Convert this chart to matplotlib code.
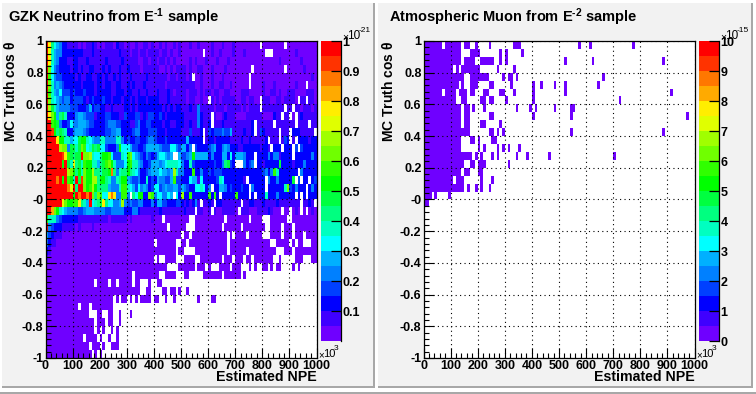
"""GZK neutrino and atmospheric muon NPE vs cos(theta) maps, ROOT canvas look."""

import matplotlib

matplotlib.use("Agg")
import matplotlib.pyplot as plt
import numpy as np
from matplotlib.colors import BoundaryNorm, ListedColormap
from matplotlib.patches import Rectangle
from matplotlib.ticker import FixedLocator

plt.rcParams["font.family"] = "Liberation Sans"
plt.rcParams["font.weight"] = "bold"
plt.rcParams["mathtext.fontset"] = "custom"
plt.rcParams["mathtext.rm"] = "Liberation Sans:bold"
plt.rcParams["mathtext.bf"] = "Liberation Sans:bold"
plt.rcParams["mathtext.it"] = "Liberation Sans"
plt.rcParams["mathtext.default"] = "rm"

# colour level of each cell, top row first: "." is empty, "1".."k" are 20 levels
LEVEL_CODES = "123456789abcdefghijk"
gzk_rows = [
    "kg97653322 2212122321 2122213221 2112112212 1121211212 1112112111 1211121112 111111111. 11111111.1 1111111111",
    "kf86553333 3333222322 2222222322 2122122122 2212212112 11111111.1 1211211112 1112111111 1...111111 1121111111",
    "kg86533322 3322232222 2232222232 2222112212 2122121211 1112121112 1112111211 1111111111 1111112111 1111211111",
    "kd75433332 3323223322 2323222322 3222212222 2211212122 2212112211 1211112111 111111.111 11111111.1 1111121111",
    "kc75443333 3232233223 3232232322 2322222322 2222212212 2212.11211 1211121111 11111.1111 1111111111 1111111121",
    "kd85654333 3332333323 3233223322 3232223222 2222122222 2222211211 1211221121 11111.1111 2111211111 112111.111",
    "kc86574443 4333433323 3333223332 3322322322 2322232122 2212221212 2122112211 1122211111 2112212112 2211112221",
    "kd87654553 4444323433 3433233323 3232333233 3322232222 2212211211 .212122222 112212211. 2221122122 221.22.221",
    "kea8655554 4433346344 3322322223 3232333333 3332323233 2223225222 2212221222 221212222. 22222222.2 2.22122212",
    "kgdb69a833 3566544423 3344333224 3334423244 3343233333 3222225322 2.21123222 1111222222 1111322.22 .1.2322222",
    "kkcba53347 5566654433 3345554433 3224533443 3332332233 3223225322 3.22232222 2222223.22 2222.22222 22.2222.22",
    "kkjb9a9833 5666543333 3344556633 3345533344 4333233333 22242223.2 4344454462 2223223.24 322222.222 .33322222.",
    "kkkkgbb886 77abb87655 8855558853 4334433455 4333433333 33633333.2 3323333322 2232232222 23.222.243 .2.3333233",
    "kkkkkedd5a a8adc78a9a 7743335b77 7644334666 6654447754 6635.43333 4563356533 3223333332 332.333.33 3.4.433333",
    "kkkkkkjgca 9aakdde877 9bbc744487 cd76543543 4677656..6 445 6b66666 3533366373 6665333.33 3353552333 3.33333353",
    "kkkkkkbka8 f9a8cbb886 9acdb85557 bc88653346 6656788887 5338433333 3343359a43 ...5345.33 233333a333 3233353333",
    "kkkkkkkked b9b8dbbe99 8aabi95899 b987533456 6676656e85 5333c33533 4344433333 3333333333 4535c83333 333.533333",
    "kkkkikbkcb 8kajdbbee9 bb985589bb 6544533834 3655446c44 3337662733 3334873333 3332.33333 3.53353333 3a.4.33.34",
    "kkkkkkkkif k9kkdbceb9 99965558cc 8764756534 7745655664 6543377873 5.33665343 33433.5333 3.3333338d 435333.353",
    "kkkkkkkkkk bkikkikd9d c77gig55cc 5.97bb33dc 5775576.73 e33c333333 c3c3.33333 c3333.3.33 3833353333 33.3.3.333",
    "kkkkkkfdbb ccg986k789 ag977556e5 4544553335 3664433344 3232352.22 32.3322222 22.2233222 3222232222 2222.2232.",
    "kkhdb87655 5544566655 5544555553 3355322222 2232222222 23222.2211 2.21122222 1.22211122 2232111.11 .121.1.121",
    "c888543333 3322222222 2221222222 1211111112 111.111111 111..11111 111111.111 11111.1111 ...111111. .111111111",
    "k543332222 2121111211 1111111111 1111111111 11111.1111 11...11111 11111.1111 11.1111111 1..1111.11 1.11111111",
    "6432221111 1111111111 1111111111 1111111111 1111111111 .11.111111 1111111.1. 1111.11111 ...1111.11 1.111.1111",
    "5322111111 1111111111 1111111111 1111111111 .1111111.. 11.1111111 1111111.11 1111111111 111..11111 .1.11...11",
    "3211111111 1111111111 1111111111 1111111111 11111111.1 1....11111 1111111.11 1111.11111 11111...11 1.11111111",
    "2111111111 1111111111 1111111111 1111111111 .1..1111.. .1111..111 11111.111. 111.11.111 1111..1... ..111...11",
    "1111111111 1111111111 1111111111 1111111111 11111....1 11111.111. 1...1111.1 11...1.1.. 11.1.11... .1.1......",
    "1111111111 1111111111 1111111111 11.1111111 11..1111.. .11.....11 11111.1111 11.1......",
    "1111111111 11111111.1 111.11.111 11.11...1. .11.......",
    "1111111111 1111111111 1111111111 11111..11. ...11.11.1 ..1.......",
    "1111111111 1111111111 11111.1.11 .1.1.1111. 11..1..1.. ......1... .11.......",
    "1111111111 11.111.111 11111.....",
    "1111111111 111111...1 1..11..1.. .1........",
    "1111111111 11111111.1 11.11..1..",
    "1111111111 11111111.1 .1..1.1...",
    "1111111111 1111.1111. 1..1..1...",
    "1111111111 111111.111 .1..111...",
    "1111111111 1111111.1. 1.........",
]

# occupied bins of the muon map per row, top row first, all in the lowest level
muon_spans = [
    [(0, 6), (8, 13), (15, 16), (19, 19), (24, 24), (33, 35), (57, 57), (61, 61), (77, 77)],
    [(0, 13), (17, 20), (28, 28), (30, 30), (36, 36)],
    [(0, 13), (15, 18), (21, 25), (28, 28), (30, 30), (52, 52), (62, 62), (88, 88)],
    [(0, 10), (12, 12), (14, 20), (27, 27), (33, 33)],
    [(0, 14), (17, 23), (29, 29), (31, 32), (34, 34), (66, 66)],
    [(0, 12), (14, 14), (17, 19), (24, 25), (32, 32), (40, 40), (43, 43), (48, 48), (52, 52), (64, 64)],
    [(0, 6), (8, 11), (13, 15), (17, 18), (22, 23), (28, 29), (33, 33), (40, 40), (52, 52), (91, 91)],
    [(0, 11), (14, 15), (21, 22), (24, 25), (30, 30), (40, 40), (72, 72)],
    [(0, 13), (15, 16), (18, 18), (22, 22), (34, 34), (39, 39), (41, 41), (48, 48), (54, 55)],
    [(0, 13), (15, 16), (24, 25), (40, 40), (54, 54), (97, 97)],
    [(0, 13), (15, 16), (21, 22), (28, 28)],
    [(0, 16), (24, 25), (27, 27), (29, 29), (54, 54), (88, 88)],
    [(0, 13), (17, 18), (20, 20), (25, 26)],
    [(0, 13), (20, 20), (22, 22), (27, 27), (29, 29), (31, 31), (35, 35)],
    [(0, 17), (19, 19), (21, 21), (25, 25), (27, 27), (34, 34), (38, 38), (46, 46), (70, 70)],
    [(0, 14), (17, 18), (20, 22), (31, 31)],
    [(0, 13), (15, 16), (20, 21)],
    [(0, 10), (12, 14), (21, 21), (25, 25)],
    [(0, 14), (16, 16), (19, 19), (21, 21), (24, 24)],
    [(0, 2), (4, 4), (9, 9)],
    [(0, 1)],
]

palette = [
    "#6f00ff", "#3f00ff", "#0000ff", "#0040ff", "#0080ff",
    "#00b0ff", "#00ffff", "#00ffc0", "#00ff80", "#00ff40",
    "#00ff00", "#30ff00", "#70ff00", "#a0ff00", "#e0ff00",
    "#ffee00", "#ffaa00", "#ff7700", "#ff3300", "#ff0000",
]

x_ticks = [0, 100, 200, 300, 400, 500, 600, 700, 800, 900, 1000]
y_ticks = [-1, -0.8, -0.6, -0.4, -0.2, 0, 0.2, 0.4, 0.6, 0.8, 1]
y_labels = ["-1", "-0.8", "-0.6", "-0.4", "-0.2", "-0", "0.2", "0.4", "0.6", "0.8", "1"]
gzk_cbar_ticks = [0.1, 0.2, 0.3, 0.4, 0.5, 0.6, 0.7, 0.8, 0.9, 1]
gzk_cbar_labels = ["0.1", "0.2", "0.3", "0.4", "0.5", "0.6", "0.7", "0.8", "0.9", "1"]
muon_cbar_ticks = [0, 1, 2, 3, 4, 5, 6, 7, 8, 9, 10]
muon_cbar_labels = ["0", "1", "2", "3", "4", "5", "6", "7", "8", "9", "10"]

W, H = 756, 394
N_X, N_Y = 100, 40
PAD_BG = "#f2f2f2"
PLOT_BG = "#ffffff"


def rows_to_grid(rows, zmax):
    grid = np.full((N_Y, N_X), np.nan)
    for i, row in enumerate(rows):
        cells = row.replace(" ", "").ljust(N_X, ".")
        for j, c in enumerate(cells[:N_X]):
            if c != ".":
                grid[i, j] = (LEVEL_CODES.index(c) + 0.5) / 20 * zmax
    return grid


def spans_to_grid(spans, zmax):
    grid = np.full((N_Y, N_X), np.nan)
    for i, row in enumerate(spans):
        for first, last in row:
            grid[i, first : last + 1] = 0.5 / 20 * zmax
    return grid


def px_axes(fig, x0, y0, x1, y1):
    return fig.add_axes([x0 / W, 1 - y1 / H, (x1 - x0) / W, (y1 - y0) / H])


def px_text(fig, x, y, s, **kwargs):
    fig.text(x / W, 1 - y / H, s, ha="left", va="center", fontweight="normal", **kwargs)


def draw_panel(fig, grid, zmax, left, title, title_x, cbar_ticks, cbar_labels, exponent):
    cmap = ListedColormap(palette)
    cmap.set_bad(PLOT_BG)
    levels = np.linspace(0, zmax, 21)
    norm = BoundaryNorm(levels, cmap.N)

    ax = px_axes(fig, left, 41, left + 271, 358)
    ax.pcolormesh(np.linspace(0, 1000, N_X + 1), np.linspace(1, -1, N_Y + 1),
                  np.ma.masked_invalid(grid), cmap=cmap, norm=norm)
    ax.set_xlim(0, 1000)
    ax.set_ylim(-1, 1)
    ax.set_xticks(x_ticks)
    ax.set_yticks(y_ticks)
    ax.set_yticklabels(y_labels)
    ax.xaxis.set_minor_locator(FixedLocator(np.arange(0, 1001, 20)))
    ax.yaxis.set_minor_locator(FixedLocator(np.arange(-1, 1.001, 0.04)))
    ax.tick_params(which="major", direction="in", length=7, width=0.8, labelsize=9, pad=1.5)
    ax.tick_params(which="minor", direction="in", length=3.5, width=0.8)
    ax.grid(True, which="major", linestyle=(0, (1, 3)), color="black", linewidth=0.8)
    ax.set_axisbelow(False)
    for spine in ax.spines.values():
        spine.set_linewidth(0.9)
    ax.text(1.0, -0.059, "Estimated NPE", transform=ax.transAxes, ha="right", va="center", fontsize=10.2)
    ax.text(-0.13, 1.0, r"MC Truth cos $\mathit{\theta}$", transform=ax.transAxes, rotation=90,
            ha="center", va="top", fontsize=10)
    fig.text(title_x / W, 1 - 17 / H, title, fontsize=10.5, ha="left", va="center")

    # multiplier labels are set by hand, ROOT puts them just past the axis ends
    px_text(fig, left + 272.5, 355, "×", fontsize=7)
    px_text(fig, left + 277.5, 354, "10", fontsize=8)
    px_text(fig, left + 288.5, 349, "3", fontsize=6)

    cax = px_axes(fig, left + 275, 41, left + 295.5, 341)
    cax.pcolormesh([0, 1], levels, np.array(levels[:-1] + zmax / 40).reshape(-1, 1), cmap=cmap, norm=norm)
    cax.set_xticks([])
    cax.set_ylim(0, zmax)
    cax.yaxis.tick_right()
    cax.set_yticks(cbar_ticks)
    cax.set_yticklabels(cbar_labels)
    cax.tick_params(axis="y", direction="in", length=7, width=0.9, labelsize=9, pad=1)
    for name in ("top", "bottom", "left"):
        cax.spines[name].set_visible(False)
    cax.spines["right"].set_linewidth(0.9)

    px_text(fig, left + 297, 37, "×", fontsize=7.5)
    px_text(fig, left + 302, 36, "10", fontsize=8.5)
    px_text(fig, left + 313, 30, exponent, fontsize=6)


fig = plt.figure(figsize=(W / 100, H / 100), dpi=100, facecolor="white")

bg = fig.add_axes([0, 0, 1, 1], zorder=-1)
bg.set_xlim(0, W)
bg.set_ylim(H, 0)
bg.axis("off")
for x0, x1 in [(2, 375), (378, 753)]:
    bg.add_patch(Rectangle((x0, 3), x1 - x0, 385, facecolor="#a8a8a8", edgecolor="none"))
    bg.add_patch(Rectangle((x0, 3), x1 - x0 - 2, 383, facecolor=PAD_BG, edgecolor="none"))
bg.add_patch(Rectangle((0, 392), W, 2, facecolor="#a8a8a8", edgecolor="none"))

draw_panel(fig, rows_to_grid(gzk_rows, 1.0), 1.0, 45.5, r"GZK Neutrino from E$^{\text{-1}}$ sample", 7.5,
           gzk_cbar_ticks, gzk_cbar_labels, "-21")
draw_panel(fig, spans_to_grid(muon_spans, 10.0), 10.0, 423.5, r"Atmospheric Muon from E$^{\text{-2}}$ sample", 389,
           muon_cbar_ticks, muon_cbar_labels, "-15")

fig.savefig("out.png", dpi=100)
plt.close(fig)
